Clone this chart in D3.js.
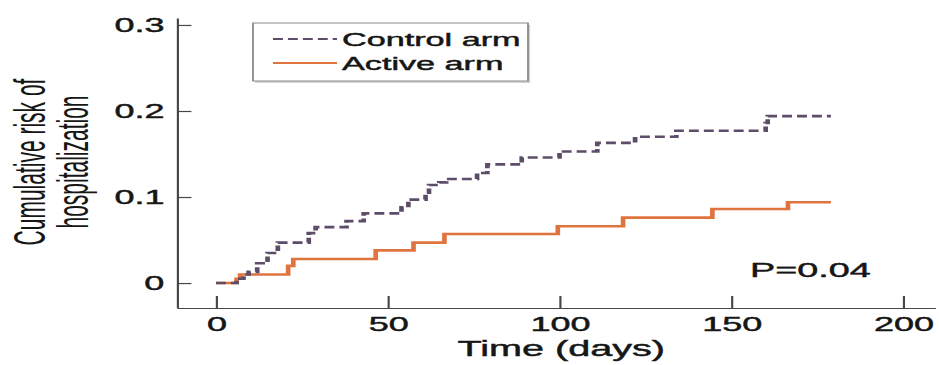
<!DOCTYPE html>
<html>
<head>
<meta charset="utf-8">
<script src="https://cdn.jsdelivr.net/npm/d3@7"></script>
<style>
  body { margin: 0; background: #fff; }
  svg { display: block; font-family: "Liberation Sans", Arial, sans-serif; }
</style>
</head>
<body>
<svg id="chart" width="939" height="365"></svg>
<script>
// step points (days, cumulative risk)
const controlDays = [0, 6, 8, 9.5, 12, 15, 18, 27, 29, 38, 43, 54, 56, 61, 62, 65, 67, 76, 79, 89, 100, 111, 122, 134, 160, 160.6, 179];
const controlRisk = [0, 0.005, 0.01, 0.013, 0.023, 0.035, 0.047, 0.058, 0.065, 0.072, 0.081, 0.088, 0.097, 0.105, 0.114, 0.117, 0.121, 0.128, 0.138, 0.146, 0.153, 0.163, 0.170, 0.177, 0.186, 0.194, 0.194];
const activeDays = [0, 6, 7, 21, 22.5, 46.5, 57.5, 66.5, 99.5, 118.5, 144.5, 166.5, 179];
const activeRisk = [0, 0.005, 0.01, 0.02, 0.028, 0.038, 0.047, 0.057, 0.066, 0.076, 0.086, 0.094, 0.094];

const xTicks = [0, 50, 100, 150, 200];
const yTicks = [0, 0.1, 0.2, 0.3];
const seriesNames = ['Control arm', 'Active arm'];
const pLabel = 'P=0.04';

const controlColor = '#5e4d68';
const activeColor = '#e0743f';
const axisColor = '#474747';
const textColor = '#161616';

// the source picture is stretched sideways, so draw in a narrow frame and scale x
const SX = 1.8;
const svg = d3.select('#chart');
const g = svg.append('g').attr('transform', `scale(${SX},1)`);

const x = d3.scaleLinear().domain([-11.35, 209.3]).range([177 / SX, 935 / SX]);
const y = d3.scaleLinear().domain([-0.029, 0.3081]).range([308, 18]);

// heavier text, the source is blurry
const heavy = sel => sel.attr('fill', textColor).attr('stroke', textColor).attr('stroke-width', 0.45);

// axes
const yAxis = g.append('g')
  .attr('transform', `translate(${x(-11.35)},0)`)
  .call(d3.axisLeft(y)
    .tickValues(yTicks)
    .tickFormat(d => d === 0 ? '0' : d3.format('.1f')(d))
    .tickSize(-8)
    .tickSizeOuter(0)
    .tickPadding(7));

const xAxis = g.append('g')
  .attr('transform', `translate(0,${y(-0.029)})`)
  .call(d3.axisBottom(x)
    .tickValues(xTicks)
    .tickSize(-12)
    .tickSizeOuter(0)
    .tickPadding(9));

[yAxis, xAxis].forEach(ax => {
  ax.select('.domain').attr('stroke', axisColor).attr('stroke-width', 1.2);
  ax.selectAll('.tick line').attr('stroke', axisColor).attr('stroke-width', 1.2);
  ax.selectAll('.tick text')
    .call(heavy)
    .style('font-size', '20px')
    .style('font-family', '"Liberation Sans", Arial, sans-serif');
});

// step curves
const line = d3.line()
  .x(d => x(d[0]))
  .y(d => y(d[1]))
  .curve(d3.curveStepAfter);

g.append('path')
  .datum(d3.zip(activeDays, activeRisk))
  .attr('fill', 'none')
  .attr('stroke', activeColor)
  .attr('stroke-width', 2.6)
  .attr('d', line);

g.append('path')
  .datum(d3.zip(controlDays, controlRisk))
  .attr('fill', 'none')
  .attr('stroke', controlColor)
  .attr('stroke-width', 2.6)
  .attr('stroke-dasharray', '5.5,2.8')
  .attr('d', line);

// axis titles
g.append('text')
  .attr('x', x(100) + 1)
  .attr('y', 356)
  .attr('text-anchor', 'middle')
  .call(heavy)
  .style('font-size', '22px')
  .text('Time (days)');

const yTitle = ['Cumulative risk of', 'hospitalization'];
g.selectAll('.ytitle')
  .data(yTitle)
  .join('text')
  .attr('class', 'ytitle')
  .attr('transform', (d, i) => `translate(${[25, 49][i]},162) rotate(-90) scale(1,1.15)`)
  .attr('text-anchor', 'middle')
  .attr('fill', textColor)
  .style('font-size', '21px')
  .text(d => d);

// legend
const lg = g.append('g');
lg.append('rect')
  .attr('x', 253 / SX + 1.2).attr('y', 25)
  .attr('width', (528 - 253) / SX).attr('height', 58)
  .attr('fill', '#d4d4d4');
lg.append('rect')
  .attr('x', 253 / SX).attr('y', 23)
  .attr('width', (528 - 253) / SX).attr('height', 58)
  .attr('fill', '#fff')
  .attr('stroke', '#8a8a8a')
  .attr('stroke-width', 1);

const legendRows = [
  { name: seriesNames[0], color: controlColor, dash: '5.5,2.8', yy: 39 },
  { name: seriesNames[1], color: activeColor, dash: null, yy: 63 }
];
legendRows.forEach(r => {
  lg.append('line')
    .attr('x1', 273 / SX).attr('x2', 337 / SX)
    .attr('y1', r.yy).attr('y2', r.yy)
    .attr('stroke', r.color)
    .attr('stroke-width', 2.2)
    .attr('stroke-dasharray', r.dash);
  lg.append('text')
    .attr('x', 342 / SX)
    .attr('y', r.yy + 7)
    .call(heavy)
    .style('font-size', '19px')
    .text(r.name);
});

// p-value
g.append('text')
  .attr('x', 750 / SX)
  .attr('y', 277)
  .call(heavy)
  .style('font-size', '21px')
  .text(pLabel);
</script>
</body>
</html>
